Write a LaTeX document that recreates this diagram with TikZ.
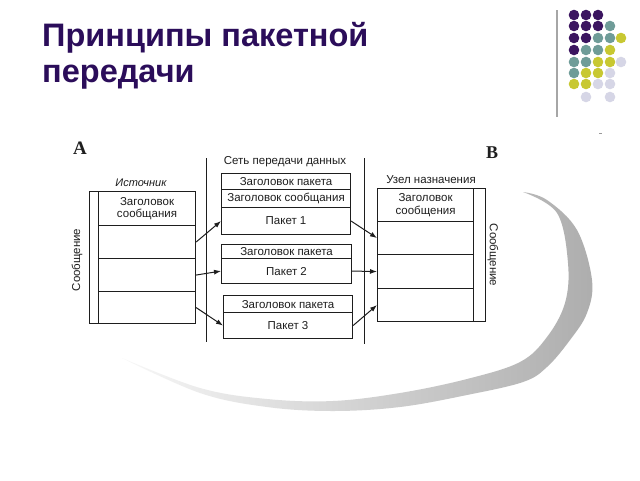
\documentclass[tikz,border=0pt]{standalone}
\usepackage{fontspec}
\setmainfont{Liberation Sans}
\newfontfamily\serifbold{Liberation Serif}
\usetikzlibrary{arrows.meta}
\definecolor{titlepurple}{HTML}{2B0D5A}
\definecolor{dotP}{HTML}{3B1560}
\definecolor{dotT}{HTML}{6F9C98}
\definecolor{dotY}{HTML}{C8C832}
\definecolor{dotL}{HTML}{D6D6E6}
\definecolor{inkc}{HTML}{1E1E1E}
\begin{document}
\begin{tikzpicture}[x=1pt,y=-1pt,
  cell/.style={draw=inkc, line width=1.1pt, inner sep=0pt, anchor=north west, align=center,
    font=\fontsize{11.5}{12.5}\selectfont, text=inkc},
  lbl/.style={inner sep=0pt, font=\fontsize{11.5}{12.5}\selectfont, text=inkc},
  conn/.style={draw=inkc, line width=1pt, -{Latex[length=7pt,width=5pt]}},
  netline/.style={draw=inkc, line width=1pt},
  dot/.style={circle, inner sep=0pt, minimum size=10.6pt}
]
\useasboundingbox (0,0) rectangle (640,480);
\fill[white] (0,0) rectangle (640,480);

% swoosh
\shade[left color=gray!6, middle color=gray!45, right color=gray!64, draw=none]
  plot[smooth, tension=0.6] coordinates {(122,358) (200,393) (267,407) (333,411) (400,407) (467,395) (523,382) (547,367) (570,340) (587,313) (592,280) (577,230) (547,200) (523,192)}
  -- plot[smooth, tension=0.6] coordinates {(523,192) (557,213) (568,263) (565,303) (547,337) (520,362) (467,379) (400,393) (333,401) (267,399) (200,388) (122,358)}
  -- cycle;

% title
\node[anchor=base west, inner sep=0pt, text=titlepurple, font=\fontsize{32.5}{36}\selectfont\bfseries] (title1) at (42,46) {Принципы пакетной};
\node[anchor=base west, inner sep=0pt, text=titlepurple, font=\fontsize{32.5}{36}\selectfont\bfseries] (title2) at (42,82) {передачи};

% decoration: vertical line and dots
\draw[gray!70, line width=1.5pt] (557,10) -- (557,117);
\draw[gray!80, line width=1pt] (599,133) -- (602,133);
\foreach \c/\x/\y in {dotP/574/15, dotP/586/15, dotP/598/15,
  dotP/574/26, dotP/586/26, dotP/598/26, dotT/610/26,
  dotP/574/38, dotP/586/38, dotT/598/38, dotT/610/38, dotY/621/38,
  dotP/574/50, dotT/586/50, dotT/598/50, dotY/610/50,
  dotT/574/62, dotT/586/62, dotY/598/62, dotY/610/62, dotL/621/62,
  dotT/574/73, dotY/586/73, dotY/598/73, dotL/610/73,
  dotY/574/84, dotY/586/84, dotL/598/84, dotL/610/84,
  dotL/586/97, dotL/610/97}
  {\node[dot, fill=\c] at (\x,\y) {};}

% letters A and B
\node[inner sep=0pt, font=\serifbold\bfseries\fontsize{19}{20}\selectfont, text=inkc] (letA) at (80,148) {A};
\node[inner sep=0pt, font=\serifbold\bfseries\fontsize{18}{20}\selectfont, text=inkc] (letB) at (492,153) {B};

% network boundary lines
\coordinate (n1t) at (206,158); \coordinate (n1b) at (206,342);
\coordinate (n2t) at (364,158); \coordinate (n2b) at (364,344);
\draw[netline] (n1t) -- (n1b);
\draw[netline] (n2t) -- (n2b);

% labels
\node[lbl, font=\fontsize{11}{12}\selectfont\itshape] (srclbl) at (141,183) {Источник};
\node[lbl] (netlbl) at (285,162) {Сеть передачи данных};
\node[lbl] (dstlbl) at (431,180) {Узел назначения};

% source
\node[cell, minimum width=9pt, minimum height=132pt] (scol) at (89,191) {};
\node[cell, minimum width=97pt, minimum height=34pt] (shead) at (98,191) {Заголовок\\сообщания};
\node[cell, minimum width=97pt, minimum height=33pt] (srow1) at (98,225) {};
\node[cell, minimum width=97pt, minimum height=33pt] (srow2) at (98,258) {};
\node[cell, minimum width=97pt, minimum height=32pt] (srow3) at (98,291) {};
\node[lbl, rotate=90] (smsg) at (77,260) {Сообщение};

% packets
\node[cell, minimum width=129pt, minimum height=16pt] (p1h) at (221,173) {Заголовок пакета};
\node[cell, minimum width=129pt, minimum height=18pt] (p1m) at (221,189) {Заголовок сообщания};
\node[cell, minimum width=129pt, minimum height=27pt] (p1b) at (221,207) {Пакет 1};
\node[cell, minimum width=130pt, minimum height=14pt] (p2h) at (221,244) {Заголовок пакета};
\node[cell, minimum width=130pt, minimum height=25pt] (p2b) at (221,258) {Пакет 2};
\node[cell, minimum width=129pt, minimum height=17pt] (p3h) at (223,295) {Заголовок пакета};
\node[cell, minimum width=129pt, minimum height=26pt] (p3b) at (223,312) {Пакет 3};

% destination
\node[cell, minimum width=96pt, minimum height=33pt] (dhead) at (377,188) {Заголовок\\сообщения};
\node[cell, minimum width=96pt, minimum height=33pt] (drow1) at (377,221) {};
\node[cell, minimum width=96pt, minimum height=34pt] (drow2) at (377,254) {};
\node[cell, minimum width=96pt, minimum height=33pt] (drow3) at (377,288) {};
\node[cell, minimum width=12pt, minimum height=133pt] (dcol) at (473,188) {};
\node[lbl, rotate=-90] (dmsg) at (493,255) {Сообщение};

% connectors
\draw[conn] (srow1.east) -- (p1b.west);
\draw[conn] (srow2.east) -- (p2b.west);
\draw[conn] (srow3.east) -- (p3b.west);
\draw[conn] (p1b.east) -- (drow1.west);
\draw[conn] (p2b.east) -- (drow2.west);
\draw[conn] (p3b.east) -- (drow3.west);
\end{tikzpicture}
\end{document}
